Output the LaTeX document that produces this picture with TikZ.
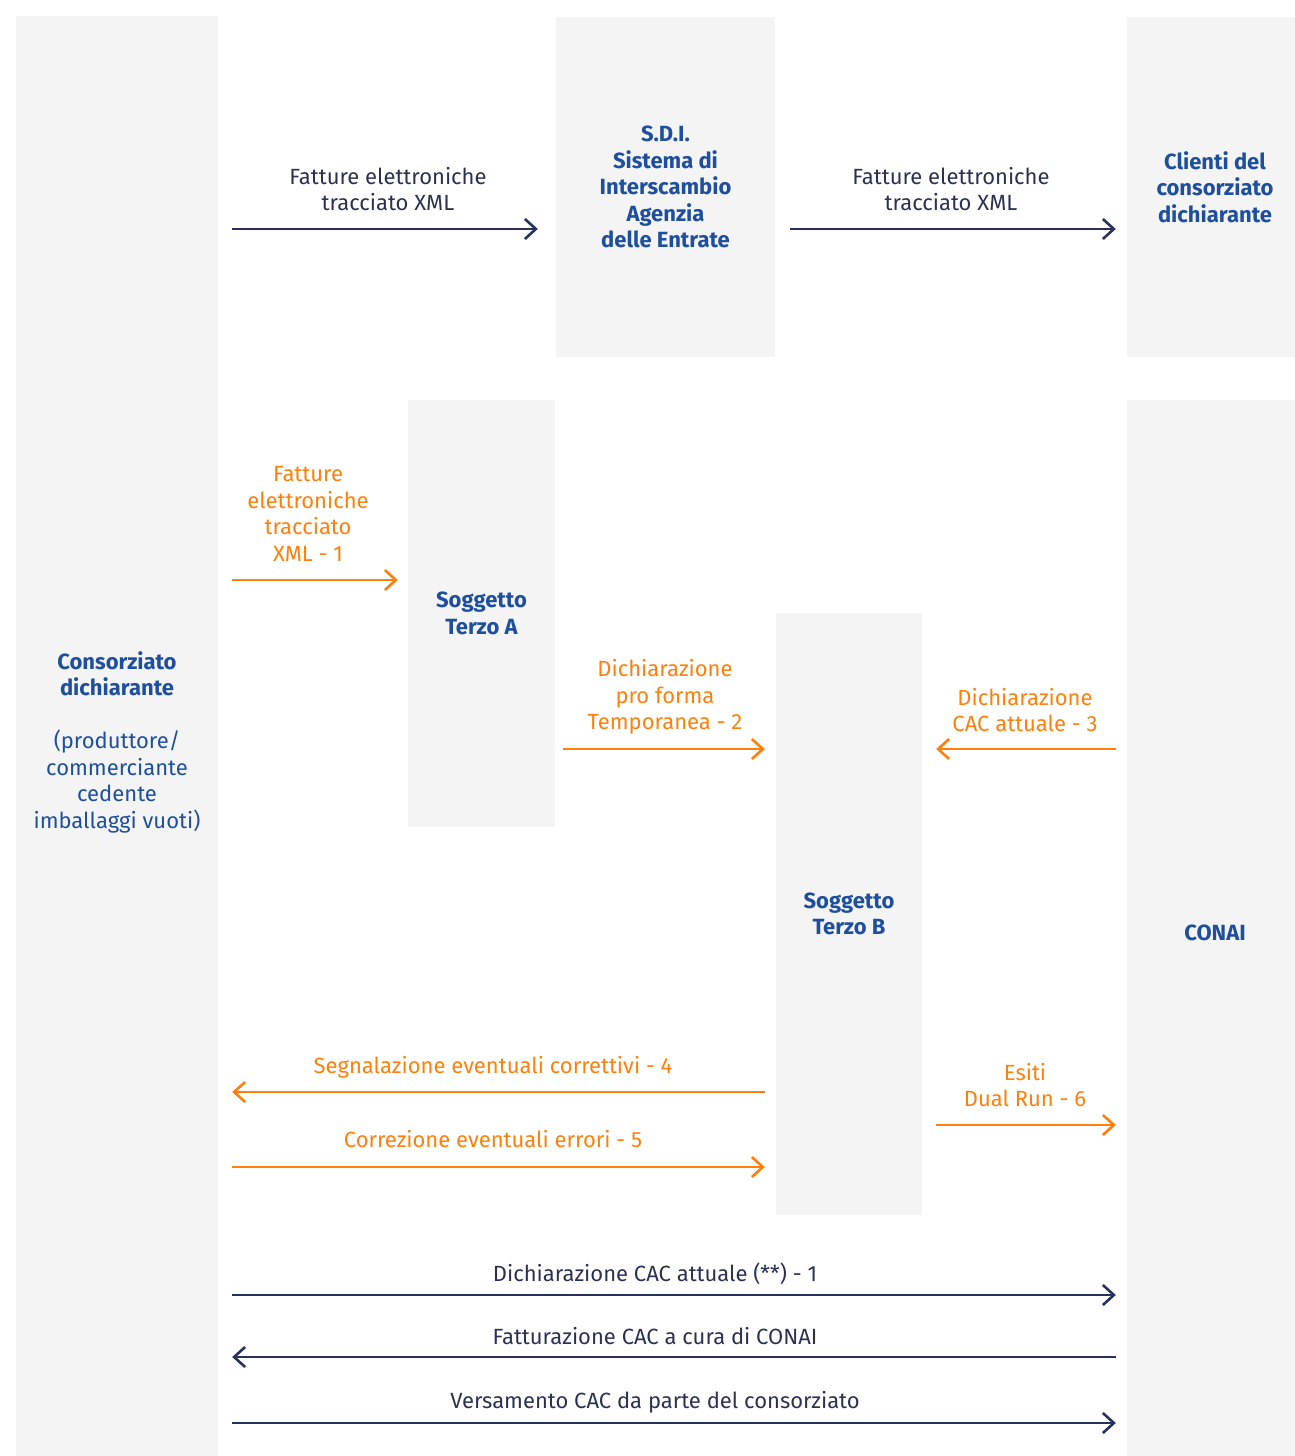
\documentclass[tikz,border=0pt]{standalone}
\usepackage{fontspec}
\setmainfont{Fira Sans}
\usetikzlibrary{arrows.meta, positioning}
\definecolor{boxgray}{HTML}{F4F4F4}
\definecolor{titleblue}{HTML}{1E4F9F}
\definecolor{navyc}{HTML}{27315E}
\definecolor{navytext}{HTML}{2B3152}
\definecolor{orangec}{HTML}{FF7F0A}

\begin{document}
\begin{tikzpicture}[x=1pt, y=-1pt,
        actor/.style={fill=boxgray, inner sep=0pt, align=center, text=titleblue, font=\fontsize{22}{26.5}\selectfont\bfseries},
        msg/.style={inner sep=0pt, align=center, text=navytext, font=\fontsize{22}{26.5}\selectfont},
        msgor/.style={msg, text=orangec},
        navyflow/.style={draw=navyc, line width=2.6pt, -{Straight Barb[length=11pt,width=20pt]}},
        orflow/.style={navyflow, draw=orangec}]
        \useasboundingbox (0,0) rectangle (1294,1456);

        % the parties
        \node[actor, minimum width=202pt, minimum height=1452pt] (cons) at (117,742)
            {Consorziato\\dichiarante\\[26.5pt]\mdseries(produttore/\\\mdseries commerciante\\\mdseries cedente\\\mdseries imballaggi vuoti)};
        \node[actor, minimum width=219pt, minimum height=340pt] (sdi) at (665.5,187)
            {S.D.I.\\Sistema di\\Interscambio\\Agenzia\\delle Entrate};
        \node[actor, minimum width=176pt, minimum height=340pt] (cli) at (1215,187)
            {Clienti del\\consorziato\\dichiarante};
        \node[actor, minimum width=147pt, minimum height=427pt] (terzoA) at (481.5,613.5)
            {Soggetto\\Terzo A};
        \node[actor, minimum width=146pt, minimum height=602pt] (terzoB) at (849,914)
            {Soggetto\\Terzo B};
        \node[actor, minimum width=176pt, minimum height=1066pt] (conai) at (1215,933)
            {CONAI};

        % labels
        \node[msg] (m1) at (388,189) {Fatture elettroniche\\tracciato XML};
        \node[msg] (m2) at (951,189) {Fatture elettroniche\\tracciato XML};
        \node[msgor] (m3) at (308,514) {Fatture\\elettroniche\\tracciato\\XML - 1};
        \node[msgor] (m4) at (665,697) {Dichiarazione\\pro forma\\Temporanea - 2};
        \node[msgor] (m5) at (1025,710) {Dichiarazione\\CAC attuale - 3};
        \node[msgor] (m6) at (493,1067) {Segnalazione eventuali correttivi - 4};
        \node[msgor] (m7) at (493,1139) {Correzione eventuali errori - 5};
        \node[msgor] (m8) at (1025,1085) {Esiti\\Dual Run - 6};
        \node[msg] (m9) at (655,1274) {Dichiarazione CAC attuale (**) - 1};
        \node[msg] (m10) at (655,1336) {Fatturazione CAC a cura di CONAI};
        \node[msg] (m11) at (655,1402) {Versamento CAC da parte del consorziato};

        % flows
        \draw[navyflow, shorten <=14pt, shorten >=18pt] (cons.east |- 0,229) -- (sdi.west |- 0,229);
        \draw[navyflow, shorten <=15pt, shorten >=11pt] (sdi.east |- 0,229) -- (cli.west |- 0,229);
        \draw[orflow, shorten <=14pt, shorten >=10pt] (cons.east |- 0,580) -- (terzoA.west |- 0,580);
        \draw[orflow, shorten <=8pt, shorten >=11pt] (terzoA.east |- 0,749) -- (terzoB.west |- 0,749);
        \draw[orflow, shorten <=11pt, shorten >=14pt] (conai.west |- 0,749) -- (terzoB.east |- 0,749);
        \draw[orflow, shorten <=11pt, shorten >=14pt] (terzoB.west |- 0,1092) -- (cons.east |- 0,1092);
        \draw[orflow, shorten <=14pt, shorten >=11pt] (cons.east |- 0,1167) -- (terzoB.west |- 0,1167);
        \draw[orflow, shorten <=14pt, shorten >=11pt] (terzoB.east |- 0,1125) -- (conai.west |- 0,1125);
        \draw[navyflow, shorten <=14pt, shorten >=11pt] (cons.east |- 0,1295) -- (conai.west |- 0,1295);
        \draw[navyflow, shorten <=11pt, shorten >=14pt] (conai.west |- 0,1357) -- (cons.east |- 0,1357);
        \draw[navyflow, shorten <=14pt, shorten >=11pt] (cons.east |- 0,1423) -- (conai.west |- 0,1423);
    \end{tikzpicture}
\end{document}
